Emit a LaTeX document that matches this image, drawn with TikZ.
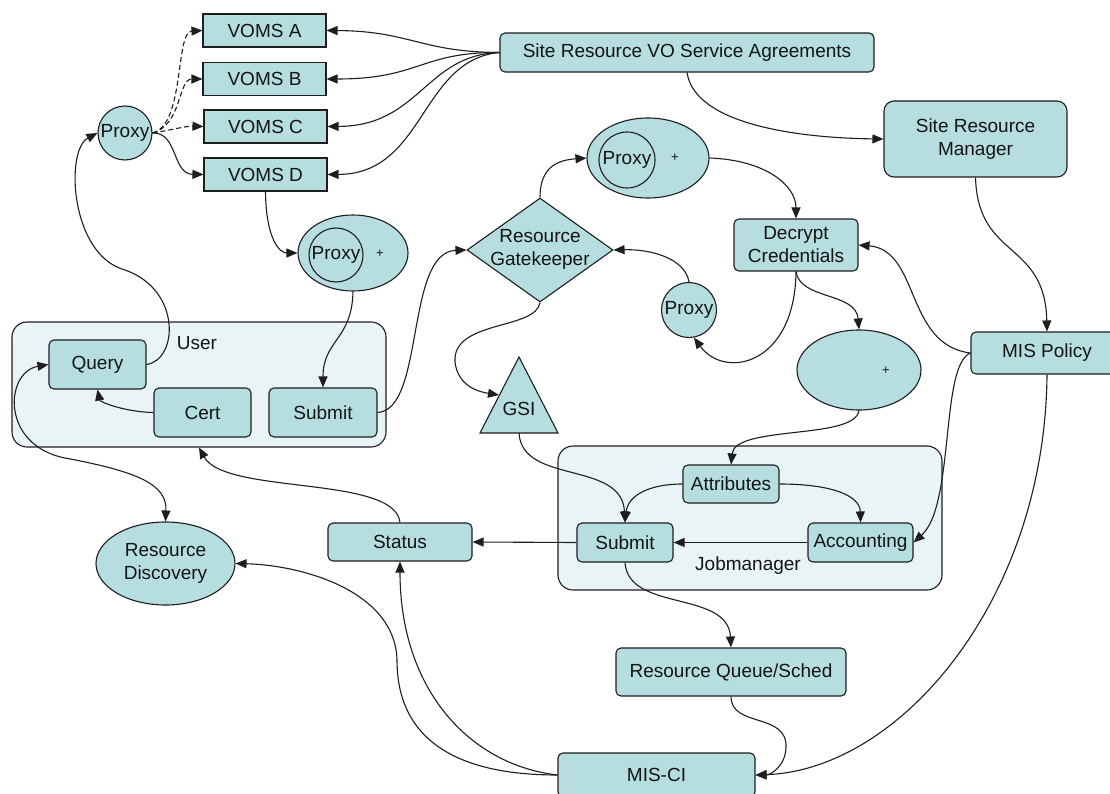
\documentclass[tikz,border=0pt]{standalone}
\usepackage{fontspec}
\setmainfont{Liberation Sans}
\usetikzlibrary{arrows.meta,shapes.geometric}

\definecolor{nodefill}{RGB}{182,221,224}
\definecolor{groupfill}{RGB}{233,244,246}
\definecolor{edge}{RGB}{30,30,30}

\begin{document}
\begin{tikzpicture}[x=1pt,y=-1pt,
  >={Triangle[length=11pt,width=9pt]},
  every node/.style={font=\fontsize{19}{23}\selectfont, text=black!92},
  box/.style={draw=edge, fill=nodefill, line width=1.1pt, rounded corners=5pt, inner sep=0pt, align=center},
  sqbox/.style={draw=edge, fill=nodefill, line width=1.1pt, inner sep=0pt},
  group/.style={draw=edge, fill=groupfill, line width=1.1pt, rounded corners=15pt, inner sep=0pt},
  oval/.style={draw=edge, fill=nodefill, line width=1.1pt, ellipse, inner sep=0pt, align=center},
  ring/.style={draw=edge, fill=nodefill, line width=1.1pt, circle, inner sep=0pt},
  plus/.style={font=\fontsize{13}{13}\selectfont, inner sep=0pt},
  flow/.style={draw=edge, line width=1.1pt, ->},
  weak/.style={flow, dash pattern=on 5pt off 3pt},
]
\useasboundingbox (0,0) rectangle (1110,794);
\fill[white] (0,0) rectangle (1110,794);

% ---------- containers ----------
\node[group, minimum width=374pt, minimum height=125pt] (user) at (199,384.5) {};
\node[inner sep=0pt] (userlbl) at (197,343) {User};
\node[group, minimum width=384pt, minimum height=144pt] (jm) at (750,518) {};
\node[inner sep=0pt] (jmlbl) at (748,566) {Jobmanager};

% ---------- VOMS servers ----------
\node[sqbox, minimum width=123pt, minimum height=33pt] (vA) at (264.5,30.5) {VOMS A};
\node[sqbox, minimum width=123pt, minimum height=33pt] (vB) at (264.5,79) {VOMS B};
\node[sqbox, minimum width=123pt, minimum height=33pt] (vC) at (265.5,126.5) {VOMS C};
\node[sqbox, minimum width=123pt, minimum height=33pt] (vD) at (265.5,174.5) {VOMS D};
\node[ring, minimum size=54pt] (proxy1) at (125,133) {Proxy};

% ---------- site side ----------
\node[box, minimum width=374pt, minimum height=39pt] (sla) at (687,52.5) {Site Resource VO Service Agreements};
\node[box, rounded corners=10pt, minimum width=183pt, minimum height=76pt] (srm) at (975.5,139) {Site Resource\\Manager};
\node[box, minimum width=152pt, minimum height=42pt] (mis) at (1047,353) {MIS Policy};

% proxy bundles
\node[oval, minimum width=122pt, minimum height=80pt] (pp1) at (648,158) {};
\node[ring, minimum size=56pt] (pp1c) at (627,160) {Proxy};
\node[plus] (pp1p) at (675,158) {+};

\node[oval, minimum width=110pt, minimum height=76pt] (pp2) at (353,253) {};
\node[ring, minimum size=54pt] (pp2c) at (336,255) {Proxy};
\node[plus] (pp2p) at (380,254) {+};

\node[oval, minimum width=124pt, minimum height=80pt] (ell3) at (859,370) {};
\node[plus] (ell3p) at (886,371) {+};

% gatekeeper
\node[diamond, draw=edge, fill=nodefill, line width=1.1pt, inner sep=0pt, minimum width=146pt, minimum height=104pt] (gk) at (540,250) {};
\node[inner sep=0pt, align=center] (gktxt) at (540,249) {Resource\\Gatekeeper};

\node[ring, minimum size=55pt] (proxy2) at (689,310) {Proxy};
\node[box, minimum width=124pt, minimum height=52pt] (dec) at (796,245) {Decrypt\\Credentials};

% GSI triangle
\draw[draw=edge, fill=nodefill, line width=1.1pt] (519,357) -- (558,433) -- (480,433) -- cycle;
\node[inner sep=0pt] (gsi) at (519,409) {GSI};
\coordinate (gsiL) at (499,395);
\coordinate (gsiB) at (519,433);

% user nodes
\node[box, minimum width=97pt, minimum height=49pt] (query) at (97.5,364.5) {Query};
\node[box, minimum width=97pt, minimum height=49pt] (cert) at (202.5,412.5) {Cert};
\node[box, minimum width=108pt, minimum height=49pt] (usub) at (323,412.5) {Submit};

% jobmanager nodes
\node[box, minimum width=96pt, minimum height=38pt] (attr) at (731,484) {Attributes};
\node[box, minimum width=96pt, minimum height=39pt] (jsub) at (625,542.5) {Submit};
\node[box, minimum width=105pt, minimum height=39pt] (acct) at (860.5,542.5) {Accounting};

% lower nodes
\node[oval, minimum width=139pt, minimum height=83pt] (rd) at (165.5,563.5) {Resource\\Discovery};
\node[box, minimum width=144pt, minimum height=38pt] (status) at (400,542) {Status};
\node[box, minimum width=230pt, minimum height=48pt] (rqs) at (731,672) {Resource Queue/Sched};
\node[box, minimum width=197pt, minimum height=44pt] (misci) at (656.5,775) {MIS-CI};

% ---------- connectors ----------
% proxy to VOMS servers
\draw[weak] (proxy1.east) .. controls (185,125) and (175,32) .. (vA.west);
\draw[weak] (proxy1.east) .. controls (182,125) and (178,79) .. (vB.west);
\draw[weak] (proxy1.east) .. controls (172,130) and (185,126) .. (vC.west);
\draw[flow] (proxy1.east) .. controls (178,132) and (172,174) .. (vD.west);

% service agreements fan out
\draw[flow] (sla.west) .. controls (420,52) and (410,31) .. (vA.east);
\draw[flow] (sla.west) .. controls (420,52) and (420,79) .. (vB.east);
\draw[flow] (sla.west) .. controls (425,55) and (420,126) .. (vC.east);
\draw[flow] (sla.west) .. controls (420,60) and (425,174) .. (vD.east);
\draw[flow] (sla.south) .. controls (695,125) and (800,138) .. (srm.west);
\draw[flow] (srm.south) .. controls (978,260) and (1045,240) .. (mis.north);

% proxy path into the gatekeeper
\draw[flow] (vD.south) .. controls (266,240) and (280,253) .. (pp2.west);
\draw[flow] (pp2.south) .. controls (352,340) and (323,340) .. (usub.north);
\draw[flow] (usub.east) .. controls (425,410) and (405,252) .. (gk.west);
\draw[flow] (gk.north) .. controls (540,165) and (560,160) .. (pp1.west);
\draw[flow] (pp1.east) .. controls (765,160) and (796,185) .. (dec.north);
\draw[flow] (proxy2.north) .. controls (685,258) and (650,249) .. (gk.east);
\draw[flow] (dec.south) .. controls (795,365) and (725,380) .. (proxy2.-80);
\draw[flow] (dec.south) .. controls (800,300) and (856,292) .. (ell3.north);
\draw[flow] (mis.west) .. controls (905,345) and (920,250) .. (dec.east);
\draw[flow] (mis.west) .. controls (940,365) and (955,505) .. (acct.east);
\draw[flow] (ell3.south) .. controls (855,440) and (735,425) .. (attr.north);
\draw[flow] (gk.south) .. controls (536,330) and (452,320) .. (455,362) .. controls (458,387) and (480,392) .. (gsiL);

% jobmanager internals
\draw[flow] (gsiB) .. controls (522,485) and (622,460) .. (jsub.north);
\draw[flow] (attr.west) .. controls (650,484) and (628,495) .. (jsub.north);
\draw[flow] (attr.east) .. controls (830,484) and (860,495) .. (acct.north);
\draw[flow] (acct.west) -- (jsub.east);
\draw[flow] (jsub.west) -- (status.east);
\draw[flow] (jsub.south) .. controls (628,612) and (728,590) .. (rqs.north);

% information services
\draw[flow] (rqs.south) .. controls (731,728) and (788,712) .. (786,748) .. controls (785,767) and (770,775) .. (misci.east);
\draw[flow] (mis.south) .. controls (1045,600) and (900,770) .. (misci.east);
\draw[flow] (misci.west) .. controls (470,765) and (400,690) .. (status.south);
\draw[flow] (misci.west) .. controls (420,775) and (397,710) .. (397,660) .. controls (395,590) and (300,565) .. (rd.east);
\draw[flow] (status.north) .. controls (395,475) and (225,495) .. (user.south);

% user side
\draw[flow, <->] (query.west) .. controls (5,372) and (0,445) .. (65,458) .. controls (140,472) and (167,485) .. (rd.north);
\draw[flow] (query.east) .. controls (178,360) and (182,290) .. (125,270) .. controls (70,255) and (65,150) .. (proxy1.west);
\draw[flow] (cert.west) .. controls (125,412) and (100,402) .. (query.south);
\end{tikzpicture}
\end{document}
